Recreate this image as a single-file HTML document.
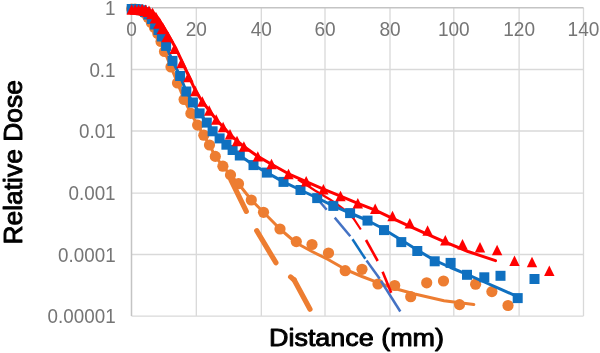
<!DOCTYPE html>
<html><head><meta charset="utf-8"><title>Relative Dose vs Distance</title>
<style>html,body{margin:0;padding:0;background:#fff;}body{width:600px;height:353px;overflow:hidden;font-family:"Liberation Sans",sans-serif;}</style></head>
<body>
<svg width="600" height="353" viewBox="0 0 600 353" style="display:block;will-change:transform;filter:blur(0.3px)">
<rect width="600" height="353" fill="#fff"/>
<g stroke="#d9d9d9" stroke-width="1.3" fill="none"><line x1="196.3" y1="7.8" x2="196.3" y2="316.1"/><line x1="261.3" y1="7.8" x2="261.3" y2="316.1"/><line x1="325.0" y1="7.8" x2="325.0" y2="316.1"/><line x1="390.0" y1="7.8" x2="390.0" y2="316.1"/><line x1="453.8" y1="7.8" x2="453.8" y2="316.1"/><line x1="519.1" y1="7.8" x2="519.1" y2="316.1"/><line x1="583.5" y1="7.8" x2="583.5" y2="316.1"/><line x1="131.5" y1="69.5" x2="583.5" y2="69.5"/><line x1="131.5" y1="131.0" x2="583.5" y2="131.0"/><line x1="131.5" y1="193.1" x2="583.5" y2="193.1"/><line x1="131.5" y1="254.5" x2="583.5" y2="254.5"/><line x1="131.5" y1="316.1" x2="583.5" y2="316.1"/></g>
<g stroke="#c4c4c4" stroke-width="1.5" fill="none"><line x1="131.5" y1="7.8" x2="583.5" y2="7.8"/><line x1="131.5" y1="7.8" x2="131.5" y2="316.1"/></g>
<g font-family="Liberation Sans, sans-serif" font-size="20.5px" fill="#757575"><text x="126.2" y="36.3" textLength="10.6" lengthAdjust="spacingAndGlyphs">0</text><text x="185.7" y="36.3" textLength="21.2" lengthAdjust="spacingAndGlyphs">20</text><text x="250.7" y="36.3" textLength="21.2" lengthAdjust="spacingAndGlyphs">40</text><text x="314.4" y="36.3" textLength="21.2" lengthAdjust="spacingAndGlyphs">60</text><text x="379.4" y="36.3" textLength="21.2" lengthAdjust="spacingAndGlyphs">80</text><text x="437.9" y="36.3" textLength="31.8" lengthAdjust="spacingAndGlyphs">100</text><text x="503.2" y="36.3" textLength="31.8" lengthAdjust="spacingAndGlyphs">120</text><text x="567.6" y="36.3" textLength="31.8" lengthAdjust="spacingAndGlyphs">140</text><text x="105.1" y="14.9" textLength="10.5" lengthAdjust="spacingAndGlyphs">1</text><text x="89.4" y="76.6" textLength="26.2" lengthAdjust="spacingAndGlyphs">0.1</text><text x="79.0" y="138.1" textLength="36.6" lengthAdjust="spacingAndGlyphs">0.01</text><text x="68.5" y="200.2" textLength="47.1" lengthAdjust="spacingAndGlyphs">0.001</text><text x="58.1" y="261.6" textLength="57.5" lengthAdjust="spacingAndGlyphs">0.0001</text><text x="47.6" y="323.2" textLength="68.0" lengthAdjust="spacingAndGlyphs">0.00001</text></g>
<g font-family="Liberation Sans, sans-serif" font-size="24.7px" fill="#000" stroke="#000" stroke-width="0.95" stroke-linejoin="round">
<text x="269" y="346" textLength="175" lengthAdjust="spacingAndGlyphs">Distance (mm)</text>
<text transform="translate(22.2,244.6) rotate(-90)" font-size="25.6px" textLength="164.5" lengthAdjust="spacingAndGlyphs">Relative Dose</text>
</g>
<polyline points="131.7,9.0 135.0,9.1 138.2,9.6 141.5,10.8 144.7,13.0 148.0,17.3 151.3,22.5 154.5,27.5 157.8,33.5 161.0,41.5 164.5,51.5 171.0,67.0 177.5,83.0 184.1,99.5 190.9,113.4 197.6,125.1 203.8,135.2 209.5,145.0 215.3,156.4 222.9,166.2 230.5,174.9 238.5,183.7 251.3,200.0 263.5,212.3 280.0,229.0 296.3,243.0 312.0,251.5 328.1,259.5 345.2,269.3 362.0,276.5 378.0,282.7 394.7,288.5 414.7,294.0 444.0,300.7 473.8,304.5" fill="none" stroke="#ed7d31" stroke-width="3" stroke-linejoin="round" stroke-linecap="round"/>
<g fill="#ed7d31"><circle cx="131.7" cy="9.0" r="5.6"/><circle cx="135.0" cy="9.1" r="5.6"/><circle cx="138.2" cy="9.6" r="5.6"/><circle cx="141.5" cy="10.8" r="5.6"/><circle cx="144.7" cy="13.0" r="5.6"/><circle cx="148.0" cy="17.3" r="5.6"/><circle cx="151.3" cy="22.5" r="5.6"/><circle cx="154.5" cy="27.5" r="5.6"/><circle cx="157.8" cy="33.5" r="5.6"/><circle cx="161.0" cy="41.5" r="5.6"/><circle cx="164.5" cy="51.5" r="5.6"/><circle cx="171.0" cy="67.0" r="5.6"/><circle cx="177.5" cy="83.0" r="5.6"/><circle cx="184.1" cy="99.5" r="5.6"/><circle cx="190.9" cy="113.4" r="5.6"/><circle cx="197.6" cy="125.1" r="5.6"/><circle cx="203.8" cy="135.2" r="5.6"/><circle cx="209.5" cy="145.0" r="5.6"/><circle cx="215.3" cy="156.4" r="5.6"/><circle cx="222.9" cy="166.2" r="5.6"/><circle cx="230.5" cy="174.9" r="5.6"/><circle cx="238.5" cy="183.7" r="5.6"/><circle cx="251.3" cy="200.0" r="5.6"/><circle cx="263.5" cy="212.3" r="5.6"/><circle cx="280.0" cy="229.0" r="5.6"/><circle cx="296.3" cy="241.6" r="5.6"/><circle cx="312.0" cy="244.5" r="5.6"/><circle cx="328.5" cy="253.0" r="5.6"/><circle cx="345.2" cy="270.7" r="5.6"/><circle cx="362.0" cy="269.3" r="5.6"/><circle cx="378.0" cy="284.0" r="5.6"/><circle cx="394.7" cy="285.5" r="5.6"/><circle cx="410.7" cy="296.7" r="5.6"/><circle cx="426.7" cy="282.8" r="5.6"/><circle cx="443.5" cy="281.0" r="5.6"/><circle cx="459.5" cy="304.6" r="5.6"/><circle cx="475.6" cy="284.2" r="5.6"/><circle cx="491.9" cy="291.6" r="5.6"/><circle cx="508.0" cy="305.5" r="5.6"/></g>
<g stroke="#ed7d31" stroke-width="5.2" stroke-linecap="round"><line x1="231" y1="180" x2="246.3" y2="211.3"/><line x1="256.7" y1="230.7" x2="275.9" y2="262.7"/><line x1="290.6" y1="276.9" x2="294.2" y2="280.0"/><line x1="294.2" y1="280.0" x2="310" y2="309.3"/></g>
<g stroke-width="2.5" stroke-linecap="butt"><line x1="318.4" y1="200" x2="326.7" y2="209.7" stroke="#4472c4"/><line x1="334.7" y1="217.6" x2="350.3" y2="236.3" stroke="#4472c4"/><line x1="352.5" y1="239.3" x2="365.3" y2="258.8" stroke="#0f70c0"/><line x1="366.5" y1="260.5" x2="379.7" y2="278.8" stroke="#4472c4"/><line x1="381" y1="281" x2="400.3" y2="311.5" stroke="#4472c4"/></g>
<path d="M298,179.5 L315,190.5 L330,199.5 Q345,209 353.5,218.4 L360.8,229.5" fill="none" stroke="#ff0000" stroke-width="2.2"/>
<g stroke="#ff0000" stroke-width="2.6" stroke-linecap="butt"><line x1="366" y1="240" x2="377.7" y2="261"/><line x1="382.6" y1="271.8" x2="391.2" y2="292.7"/></g>
<polyline points="131.7,9.0 135.0,9.0 138.4,9.3 141.7,10.2 145.1,12.0 148.4,14.5 151.8,19.0 155.1,24.5 158.5,30.0 161.8,36.5 166.1,45.9 172.5,60.9 180.1,76.0 186.3,91.5 192.9,102.5 199.6,113.4 206.8,122.6 212.6,131.3 219.6,138.4 226.4,144.7 232.6,150.0 239.8,155.5 253.5,165.1 266.9,172.6 283.5,181.9 300.5,190.0 317.2,198.0 333.3,205.8 350.1,213.0 367.5,220.5 380.0,227.0 401.3,240.0 417.3,250.1 434.7,260.4 450.6,267.5 467.0,274.3 484.3,282.0 500.5,289.1 518.0,296.8" fill="none" stroke="#0f70c0" stroke-width="3" stroke-linejoin="round" stroke-linecap="round"/>
<g fill="#0f70c0"><rect x="126.7" y="4.0" width="10" height="10"/><rect x="130.0" y="4.0" width="10" height="10"/><rect x="133.4" y="4.3" width="10" height="10"/><rect x="136.7" y="5.2" width="10" height="10"/><rect x="140.1" y="7.0" width="10" height="10"/><rect x="143.4" y="9.5" width="10" height="10"/><rect x="146.8" y="14.0" width="10" height="10"/><rect x="150.1" y="19.5" width="10" height="10"/><rect x="153.5" y="25.0" width="10" height="10"/><rect x="156.8" y="31.5" width="10" height="10"/><rect x="161.1" y="40.9" width="10" height="10"/><rect x="167.5" y="55.9" width="10" height="10"/><rect x="175.1" y="71.0" width="10" height="10"/><rect x="181.3" y="86.5" width="10" height="10"/><rect x="187.9" y="97.5" width="10" height="10"/><rect x="194.6" y="108.4" width="10" height="10"/><rect x="201.8" y="117.6" width="10" height="10"/><rect x="207.6" y="126.3" width="10" height="10"/><rect x="214.6" y="133.4" width="10" height="10"/><rect x="221.4" y="139.7" width="10" height="10"/><rect x="227.6" y="145.0" width="10" height="10"/><rect x="234.8" y="150.5" width="10" height="10"/><rect x="248.5" y="160.1" width="10" height="10"/><rect x="261.9" y="167.6" width="10" height="10"/><rect x="278.5" y="176.9" width="10" height="10"/><rect x="295.5" y="185.0" width="10" height="10"/><rect x="312.2" y="193.1" width="10" height="10"/><rect x="328.3" y="200.9" width="10" height="10"/><rect x="345.1" y="208.1" width="10" height="10"/><rect x="362.5" y="215.6" width="10" height="10"/><rect x="379.0" y="225.1" width="10" height="10"/><rect x="396.3" y="237.1" width="10" height="10"/><rect x="412.3" y="246.0" width="10" height="10"/><rect x="429.7" y="256.3" width="10" height="10"/><rect x="445.6" y="257.9" width="10" height="10"/><rect x="462.0" y="269.8" width="10" height="10"/><rect x="479.3" y="272.3" width="10" height="10"/><rect x="495.5" y="270.8" width="10" height="10"/><rect x="512.7" y="293.1" width="10" height="10"/><rect x="529.5" y="274.0" width="10" height="10"/></g>
<polyline points="131.7,9.5 135.2,9.5 138.7,9.5 142.6,9.6 146.6,10.2 150.5,11.2 154.1,13.5 157.6,17.8 161.1,23.0 164.5,28.5 169.2,36.5 176.1,48.8 182.7,63.0 189.2,77.0 195.6,91.0 202.3,101.5 209.2,110.5 216.2,119.5 223.1,127.0 230.0,134.3 237.0,141.0 243.9,146.5 257.8,156.4 271.5,164.3 288.5,173.8 306.2,181.6 323.4,189.2 340.5,196.2 357.8,203.4 375.2,210.2 392.5,218.4 409.8,226.4 427.6,234.3 445.3,242.2 468.0,251.5 495.5,260.7" fill="none" stroke="#ff0000" stroke-width="3" stroke-linejoin="round" stroke-linecap="round"/>
<g fill="#ff0000"><path d="M131.7,4.3 L136.9,14.7 L126.5,14.7Z"/><path d="M135.2,4.3 L140.4,14.7 L130.0,14.7Z"/><path d="M138.6,4.3 L143.8,14.7 L133.4,14.7Z"/><path d="M142.1,3.9 L148.5,15.3 L135.7,15.3Z"/><path d="M145.6,4.5 L152.0,15.9 L139.2,15.9Z"/><path d="M149.0,5.5 L155.4,16.9 L142.6,16.9Z"/><path d="M152.5,7.8 L158.9,19.2 L146.1,19.2Z"/><path d="M156.0,12.1 L162.4,23.5 L149.6,23.5Z"/><path d="M159.5,17.3 L165.9,28.7 L153.1,28.7Z"/><path d="M162.9,22.8 L169.3,34.2 L156.5,34.2Z"/><path d="M167.6,30.8 L174.0,42.2 L161.2,42.2Z"/><path d="M174.5,43.6 L179.7,54.0 L169.3,54.0Z"/><path d="M181.5,57.8 L186.7,68.2 L176.3,68.2Z"/><path d="M188.4,71.8 L193.6,82.2 L183.2,82.2Z"/><path d="M195.3,85.8 L200.5,96.2 L190.1,96.2Z"/><path d="M202.3,96.3 L207.5,106.7 L197.1,106.7Z"/><path d="M209.2,105.3 L214.4,115.7 L204.0,115.7Z"/><path d="M216.2,114.3 L221.4,124.7 L211.0,124.7Z"/><path d="M223.1,121.8 L228.3,132.2 L217.9,132.2Z"/><path d="M230.0,129.1 L235.2,139.5 L224.8,139.5Z"/><path d="M237.0,135.8 L242.2,146.2 L231.8,146.2Z"/><path d="M243.9,141.3 L249.1,151.7 L238.7,151.7Z"/><path d="M257.8,151.2 L263.0,161.6 L252.6,161.6Z"/><path d="M271.5,158.8 L276.7,169.2 L266.3,169.2Z"/><path d="M288.5,168.8 L293.7,179.2 L283.3,179.2Z"/><path d="M306.2,176.0 L311.4,186.4 L301.0,186.4Z"/><path d="M323.4,184.1 L328.6,194.5 L318.2,194.5Z"/><path d="M340.5,190.8 L345.7,201.2 L335.3,201.2Z"/><path d="M357.8,198.0 L363.0,208.4 L352.6,208.4Z"/><path d="M375.2,203.6 L380.4,214.0 L370.0,214.0Z"/><path d="M392.5,210.8 L397.7,221.2 L387.3,221.2Z"/><path d="M409.8,218.1 L415.0,228.5 L404.6,228.5Z"/><path d="M427.6,225.3 L432.8,235.7 L422.4,235.7Z"/><path d="M445.3,235.0 L450.5,245.4 L440.1,245.4Z"/><path d="M462.5,239.0 L467.7,249.4 L457.3,249.4Z"/><path d="M480.0,242.0 L485.2,252.4 L474.8,252.4Z"/><path d="M497.1,244.8 L502.3,255.2 L491.9,255.2Z"/><path d="M514.5,255.6 L519.7,266.0 L509.3,266.0Z"/><path d="M532.0,256.8 L537.2,267.2 L526.8,267.2Z"/><path d="M549.3,265.6 L554.5,276.0 L544.1,276.0Z"/></g>
</svg>
</body></html>
